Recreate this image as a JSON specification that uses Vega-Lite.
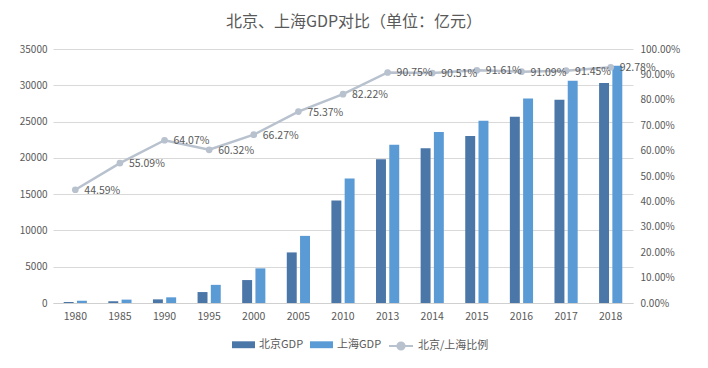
{
  "$schema": "https://vega.github.io/schema/vega-lite/v6.json",
  "width": 580,
  "height": 254,
  "autosize": "none",
  "padding": {"left": 53, "top": 49, "right": 75, "bottom": 65},
  "background": "white",
  "config": {
    "font": "Noto Sans CJK SC",
    "view": {"stroke": null},
    "axis": {"labelColor": "#595959", "labelFontSize": 10, "ticks": false, "domain": false, "title": null, "labelFont": "Noto Sans CJK SC"},
    "legend": {"labelColor": "#595959", "labelFontSize": 11, "labelFont": "Noto Sans CJK SC", "title": null}
  },
  "title": {
    "text": "北京、上海GDP对比（单位：亿元）",
    "fontSize": 16,
    "fontWeight": "normal",
    "color": "#595959",
    "font": "Noto Sans CJK SC",
    "anchor": "middle",
    "dx": 11,
    "offset": 14
  },
  "datasets": {
    "gdp": [
      {"year": "1980", "city": "北京GDP", "gdp": 139},
      {"year": "1980", "city": "上海GDP", "gdp": 312},
      {"year": "1985", "city": "北京GDP", "gdp": 257},
      {"year": "1985", "city": "上海GDP", "gdp": 467},
      {"year": "1990", "city": "北京GDP", "gdp": 501},
      {"year": "1990", "city": "上海GDP", "gdp": 782},
      {"year": "1995", "city": "北京GDP", "gdp": 1508},
      {"year": "1995", "city": "上海GDP", "gdp": 2500},
      {"year": "2000", "city": "北京GDP", "gdp": 3161},
      {"year": "2000", "city": "上海GDP", "gdp": 4771},
      {"year": "2005", "city": "北京GDP", "gdp": 6970},
      {"year": "2005", "city": "上海GDP", "gdp": 9248},
      {"year": "2010", "city": "北京GDP", "gdp": 14114},
      {"year": "2010", "city": "上海GDP", "gdp": 17166},
      {"year": "2013", "city": "北京GDP", "gdp": 19801},
      {"year": "2013", "city": "上海GDP", "gdp": 21818},
      {"year": "2014", "city": "北京GDP", "gdp": 21331},
      {"year": "2014", "city": "上海GDP", "gdp": 23568},
      {"year": "2015", "city": "北京GDP", "gdp": 23015},
      {"year": "2015", "city": "上海GDP", "gdp": 25123},
      {"year": "2016", "city": "北京GDP", "gdp": 25669},
      {"year": "2016", "city": "上海GDP", "gdp": 28179},
      {"year": "2017", "city": "北京GDP", "gdp": 28015},
      {"year": "2017", "city": "上海GDP", "gdp": 30633},
      {"year": "2018", "city": "北京GDP", "gdp": 30320},
      {"year": "2018", "city": "上海GDP", "gdp": 32680}
    ],
    "ratio": [
      {"year": "1980", "ratio": 0.4459},
      {"year": "1985", "ratio": 0.5509},
      {"year": "1990", "ratio": 0.6407},
      {"year": "1995", "ratio": 0.6032},
      {"year": "2000", "ratio": 0.6627},
      {"year": "2005", "ratio": 0.7537},
      {"year": "2010", "ratio": 0.8222},
      {"year": "2013", "ratio": 0.9075},
      {"year": "2014", "ratio": 0.9051},
      {"year": "2015", "ratio": 0.9161},
      {"year": "2016", "ratio": 0.9109},
      {"year": "2017", "ratio": 0.9145},
      {"year": "2018", "ratio": 0.9278}
    ]
  },
  "encoding": {
    "x": {
      "field": "year",
      "type": "ordinal",
      "scale": {"paddingInner": 0.48, "paddingOuter": 0.24},
      "axis": {"labelAngle": 0, "labelPadding": 8, "grid": false, "domain": true, "domainColor": "#d0d0d0", "labelFontSize": 10.5}
    }
  },
  "layer": [
    {
      "data": {"name": "gdp"},
      "mark": {"type": "bar"},
      "encoding": {
        "xOffset": {"field": "city", "type": "nominal", "sort": ["北京GDP", "上海GDP"], "scale": {"paddingInner": 0.25}},
        "y": {
          "field": "gdp",
          "type": "quantitative",
          "scale": {"domain": [0, 35000]},
          "axis": {"values": [0, 5000, 10000, 15000, 20000, 25000, 30000, 35000], "format": "d", "grid": true, "gridColor": "#d9d9d9", "labelPadding": 6, "orient": "left"}
        },
        "color": {
          "field": "city",
          "type": "nominal",
          "sort": ["北京GDP", "上海GDP"],
          "scale": {"domain": ["北京GDP", "上海GDP"], "range": ["#4a76a8", "#5b9bd5"]},
          "legend": {
            "orient": "none",
            "direction": "horizontal",
            "legendX": 179,
            "legendY": 284,
            "symbolType": "M-1,-0.3H1V0.3H-1Z",
            "symbolSize": 529,
            "symbolStrokeWidth": 0,
            "labelOffset": 4,
            "columnPadding": 6
          }
        }
      }
    },
    {
      "data": {"name": "ratio"},
      "mark": {"type": "line", "strokeWidth": 2.5},
      "encoding": {
        "y": {
          "field": "ratio",
          "type": "quantitative",
          "scale": {"domain": [0, 1]},
          "axis": {"orient": "right", "values": [0, 0.1, 0.2, 0.3, 0.4, 0.5, 0.6, 0.7, 0.8, 0.9, 1.0], "format": ".2%", "grid": false, "labelPadding": 7}
        },
        "stroke": {
          "datum": "北京/上海比例",
          "scale": {"range": ["#b8c1ce"]},
          "legend": {
            "orient": "none",
            "direction": "horizontal",
            "legendX": 335,
            "legendY": 284,
            "symbolType": "M-1,0H-0.3M0.3,0H1M-0.3,0A0.3,0.3 0 1,0 0.3,0A0.3,0.3 0 1,0 -0.3,0Z",
            "symbolSize": 576,
            "symbolFillColor": "#b8c1ce",
            "symbolStrokeWidth": 2,
            "labelOffset": 4
          }
        }
      }
    },
    {
      "data": {"name": "ratio"},
      "mark": {"type": "point", "filled": true, "size": 45, "color": "#b8c1ce", "opacity": 1},
      "encoding": {
        "y": {"field": "ratio", "type": "quantitative", "scale": {"domain": [0, 1]}, "axis": null}
      }
    },
    {
      "data": {"name": "ratio"},
      "mark": {"type": "text", "align": "left", "baseline": "middle", "dx": 9, "dy": 1, "fontSize": 10.5, "color": "#595959", "font": "Noto Sans CJK SC"},
      "encoding": {
        "y": {"field": "ratio", "type": "quantitative", "scale": {"domain": [0, 1]}, "axis": null},
        "text": {"field": "ratio", "type": "quantitative", "format": ".2%"}
      }
    }
  ],
  "resolve": {"scale": {"y": "independent"}}
}
